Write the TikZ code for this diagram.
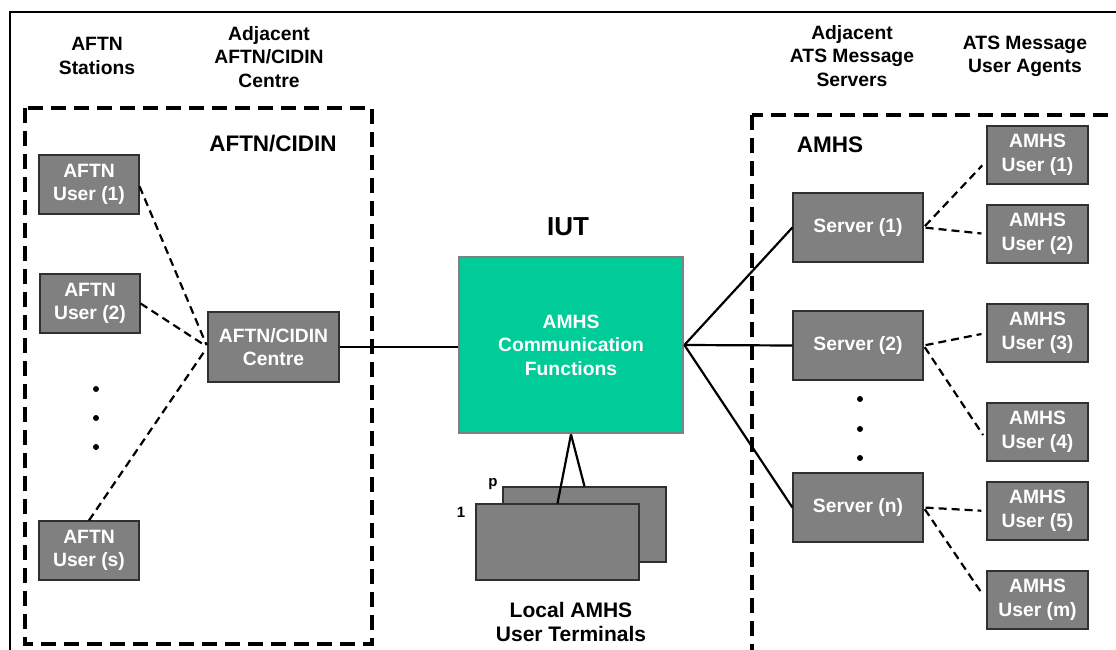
\documentclass[tikz,border=0pt]{standalone}
\usepackage{fontspec}
\setmainfont{Liberation Sans}
\definecolor{boxgray}{HTML}{808080}
\definecolor{boxedge}{HTML}{303030}
\definecolor{iutgreen}{HTML}{00CC99}
\begin{document}
\begin{tikzpicture}[x=1pt,y=-1pt,
  gbox/.style={draw=boxedge, line width=1.2pt, fill=boxgray, text=white,
    font=\bfseries\fontsize{19.3}{23.5}\selectfont, align=center, inner sep=0pt},
  hdr/.style={font=\bfseries\fontsize{19.3}{23.5}\selectfont, align=center, inner sep=0pt},
  biglabel/.style={font=\bfseries\fontsize{22.5}{26}\selectfont, inner sep=0pt},
  dcon/.style={line width=2.2pt, dash pattern=on 8pt off 5pt},
  scon/.style={line width=2.2pt},
  region/.style={line width=3.2pt, dash pattern=on 15pt off 8pt},
  dotmark/.style={fill=black}
]
\useasboundingbox (0,0) rectangle (1116,650);
\clip (0,0) rectangle (1116,650);

% outer frame
\draw[line width=2.5pt] (10,12) rectangle (1140,700);

% region boxes
\draw[region] (25,108) rectangle (372,644);
\draw[region] (752,115) rectangle (1150,700);

% headers
\node[hdr] (hst) at (97,56) {AFTN\\Stations};
\node[hdr] (hac) at (269,57) {Adjacent\\AFTN/CIDIN\\Centre};
\node[hdr] (has) at (852,56) {Adjacent\\ATS Message\\Servers};
\node[hdr] (hua) at (1025,56.5) {ATS Message\\User Agents};
\node[biglabel] (lcidin) at (273,144) {AFTN/CIDIN};
\node[biglabel] (lamhs) at (830,145) {AMHS};
\node[font=\bfseries\fontsize{26}{30}\selectfont, inner sep=0pt] (liut) at (568,227) {IUT};

% left nodes
\node[gbox, minimum width=100pt, minimum height=59pt] (au1) at (89,184.5) {AFTN\\User (1)};
\node[gbox, minimum width=100pt, minimum height=59pt] (au2) at (90,303.5) {AFTN\\User (2)};
\node[gbox, minimum width=100pt, minimum height=59pt] (aus) at (89,550.5) {AFTN\\User (s)};
\node[gbox, minimum width=131pt, minimum height=70pt] (acc) at (273.5,347) {AFTN/CIDIN\\Centre};

% IUT
\node[draw=boxgray, line width=2.8pt, fill=iutgreen, text=white,
  font=\bfseries\fontsize{19.3}{23.5}\selectfont, align=center, inner sep=0pt,
  minimum width=224pt, minimum height=176pt] (iut) at (571,345)
  {AMHS\\Communication\\Functions};

% terminals
\node[gbox, minimum width=163pt, minimum height=75pt] (tback) at (584.5,524.5) {};
\node[gbox, minimum width=163pt, minimum height=76pt] (tfront) at (557.5,542) {};
\node[font=\bfseries\fontsize{15}{18}\selectfont, inner sep=0pt] (lp) at (493,484) {p};
\node[font=\bfseries\fontsize{15}{18}\selectfont, inner sep=0pt] (l1) at (461,512) {1};
\node[font=\bfseries\fontsize{21}{24}\selectfont, align=center, inner sep=0pt] (lterm) at (571,622) {Local AMHS\\User Terminals};

% servers
\node[gbox, minimum width=130pt, minimum height=69pt] (s1) at (858,227.5) {Server (1)};
\node[gbox, minimum width=130pt, minimum height=69pt] (s2) at (858,345.5) {Server (2)};
\node[gbox, minimum width=130pt, minimum height=69pt] (sn) at (858,507.5) {Server (n)};

% AMHS users
\node[gbox, minimum width=101pt, minimum height=58pt] (mu1) at (1037.5,155) {AMHS\\User (1)};
\node[gbox, minimum width=101pt, minimum height=58pt] (mu2) at (1037.5,234) {AMHS\\User (2)};
\node[gbox, minimum width=101pt, minimum height=58pt] (mu3) at (1037.5,333) {AMHS\\User (3)};
\node[gbox, minimum width=101pt, minimum height=58pt] (mu4) at (1037.5,432) {AMHS\\User (4)};
\node[gbox, minimum width=101pt, minimum height=58pt] (mu5) at (1037.5,511) {AMHS\\User (5)};
\node[gbox, minimum width=101pt, minimum height=58pt] (mum) at (1037.5,600) {AMHS\\User (m)};

% dots
\fill[dotmark] (96,389) circle (3pt);
\fill[dotmark] (96,418) circle (3pt);
\fill[dotmark] (96,447) circle (3pt);
\fill[dotmark] (860,399) circle (3pt);
\fill[dotmark] (860,429) circle (3pt);
\fill[dotmark] (860,458) circle (3pt);

% left dashed connectors
\draw[dcon, shorten >=2pt] ([yshift=-2pt]au1.east) -- (acc.west);
\draw[dcon, shorten >=2pt] (au2.east) -- (acc.west);
\draw[dcon, shorten >=2pt] (aus.north) -- (acc.west);

% solid connectors
\draw[scon] (acc.east) -- (acc.east -| iut.west);
\draw[scon] (iut.east) -- (s1.west);
\draw[scon] (iut.east) -- (s2.west);
\draw[scon] (iut.east) -- (sn.west);
\draw[scon] (iut.south) -- (tfront.north);
\draw[scon] (iut.south) -- (tback.north);

% right dashed connectors
\draw[dcon, shorten <=2pt, shorten >=6pt] (s1.east) -- ([yshift=-6pt]mu1.west);
\draw[dcon, shorten <=2pt, shorten >=5pt] (s1.east) -- (mu2.west);
\draw[dcon, shorten <=2pt, shorten >=5pt] (s2.east) -- (mu3.west);
\draw[dcon, shorten <=2pt, shorten >=6pt] (s2.east) -- ([yshift=-8pt]mu4.west);
\draw[dcon, shorten <=2pt, shorten >=5pt] (sn.east) -- (mu5.west);
\draw[dcon, shorten <=2pt, shorten >=6pt] (sn.east) -- (mum.west);
\end{tikzpicture}
\end{document}
